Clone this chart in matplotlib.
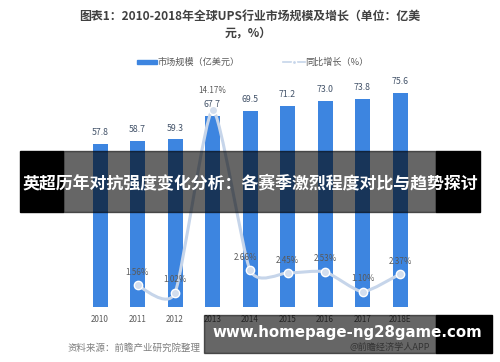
import matplotlib
matplotlib.use("Agg")
import matplotlib.pyplot as plt
from matplotlib.patches import Rectangle, PathPatch
from matplotlib.path import Path
import numpy as np

plt.rcParams['font.family'] = ['Noto Sans CJK SC', 'DejaVu Sans']

# --- data ---
years = ['2010', '2011', '2012', '2013', '2014', '2015', '2016', '2017', '2018E']
market = [57.8, 58.7, 59.3, 67.7, 69.5, 71.2, 73.0, 73.8, 75.6]
growth_years = ['2011', '2012', '2013', '2014', '2015', '2016', '2017', '2018E']
growth = [1.56, 1.02, 14.17, 2.66, 2.45, 2.53, 1.10, 2.37]

BAR = '#3d85e0'
LINE = '#c6d5ea'
W, H = 500, 362

fig = plt.figure(figsize=(5, 3.62), dpi=100)
fig.patch.set_facecolor('white')

ax = fig.add_axes([81.25 / W, 55 / H, 337.5 / W, 226 / H])
ax.set_xlim(-0.5, 8.5)
ax.set_ylim(0, 80)
x = np.arange(len(years))
ax.bar(x, market, width=0.4, color=BAR, zorder=2)
for xi, v in zip(x, market):
    ax.annotate(f'{v:.1f}', (xi, v), xytext=(0, 5), textcoords='offset points',
                ha='center', va='bottom', fontsize=6.3, color='#44546a', zorder=5)
ax.set_xticks(x)
ax.set_xticklabels(years, fontsize=5.8, color='#595959')
ax.tick_params(axis='x', length=0, pad=6)
ax.set_yticks([])
for s in ax.spines.values():
    s.set_visible(False)

# secondary axis for growth
ax2 = ax.twinx()
ax2.set_ylim(0, 226 / 13.9)
ax2.set_yticks([])
for s in ax2.spines.values():
    s.set_visible(False)
gx = np.array([years.index(y) for y in growth_years], dtype=float)
gy = np.array(growth)

# smoothed line as cubic bezier path
verts = [(gx[0], gy[0])]
codes = [Path.MOVETO]
t = 0.1
for i in range(len(gx) - 1):
    p0 = (gx[max(i - 1, 0)], gy[max(i - 1, 0)])
    p1 = (gx[i], gy[i])
    p2 = (gx[i + 1], gy[i + 1])
    p3 = (gx[min(i + 2, len(gx) - 1)], gy[min(i + 2, len(gx) - 1)])
    c1 = (p1[0] + (p2[0] - p0[0]) * t, p1[1] + (p2[1] - p0[1]) * t)
    c2 = (p2[0] - (p3[0] - p1[0]) * t, p2[1] - (p3[1] - p1[1]) * t)
    verts += [c1, c2, p2]
    codes += [Path.CURVE4] * 3
ax2.add_patch(PathPatch(Path(verts, codes), fill=False, edgecolor=LINE, lw=2.2, zorder=3))
ax2.plot(gx, gy, 'o', ms=6, mfc='#d3deee', mec='white', mew=1.0, zorder=4)
for xi, v, yr in zip(gx, gy, growth_years):
    dx = -3 if yr == '2014' else 0
    dy = 11 if yr == '2013' else 6
    ax2.annotate(f'{v:.2f}%', (xi, v), xytext=(dx, dy), textcoords='offset points',
                 ha='center', va='bottom', fontsize=5.8, color='#595959', zorder=5)

# title and legend
fig.text(250 / W, 1 - 16 / H, '图表1：2010-2018年全球UPS行业市场规模及增长（单位：亿美',
         ha='center', va='center', fontsize=8.6, fontweight='bold', color='#404040')
fig.text(248 / W, 1 - 33 / H, '元，%）', ha='center', va='center',
         fontsize=8.6, fontweight='bold', color='#404040')
ly = 1 - 62 / H
fig.patches.append(Rectangle((137 / W, ly - 1.5 / H), 20 / W, 4 / H,
                             transform=fig.transFigure, color=BAR))
fig.text(158 / W, ly, '市场规模（亿美元）', ha='left', va='center', fontsize=6.6, color='#595959')
fig.add_artist(plt.Line2D([283 / W, 305 / W], [ly, ly], color=LINE, lw=1.2,
                          transform=fig.transFigure))
fig.add_artist(plt.Line2D([294 / W], [ly], marker='o', ms=3, mfc='#c6d5ea', mec='white',
                          transform=fig.transFigure))
fig.text(305 / W, ly, '同比增长（%）', ha='left', va='center', fontsize=6.6, color='#595959')

# source notes
fig.text(68 / W, 1 - 348 / H, '资料来源：前瞻产业研究院整理', ha='left', va='center',
         fontsize=6.8, color='#7f7f7f')
fig.text(430 / W, 1 - 347 / H, '@前瞻经济学人APP', ha='right', va='center',
         fontsize=6.6, color='#7f7f7f')

# overlay bands
def rect(x0, y0, x1, y1, color, alpha):
    fig.patches.append(Rectangle((x0 / W, 1 - y1 / H), (x1 - x0) / W, (y1 - y0) / H,
                                 transform=fig.transFigure, color=color, alpha=alpha,
                                 zorder=10))

rect(20, 151, 63, 212, 'black', 1)
rect(63, 151, 436, 212, 'black', 0.6)
rect(436, 151, 480, 212, 'black', 1)
fig.text(250 / W, 1 - 183 / H, '英超历年对抗强度变化分析：各赛季激烈程度对比与趋势探讨',
         ha='center', va='center', fontsize=12.2, fontweight='bold', color='white', zorder=11)

rect(204, 315, 436, 353, 'black', 0.6)
rect(436, 315, 492, 353, 'black', 1)
fig.text(347 / W, 1 - 332 / H, 'www.homepage-ng28game.com', ha='center', va='center',
         fontsize=10.8, fontweight='bold', color='white', family='DejaVu Sans', zorder=11)

fig.savefig('out.png', dpi=100)
